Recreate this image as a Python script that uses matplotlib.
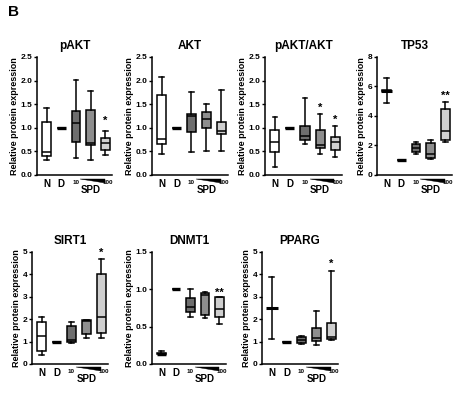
import numpy as np
import matplotlib
matplotlib.use('Agg')
import matplotlib.pyplot as plt
from matplotlib.patches import Polygon
import matplotlib.transforms as mtransforms

plt.rcParams['font.family'] = ['Liberation Sans', 'DejaVu Sans']
plt.rcParams['font.weight'] = 'bold'

groups = ["N", "D", "10", "30", "100"]

# (whislo, q1, med, q3, whishi) per group
pakt = [(0.32, 0.40, 0.48, 1.13, 1.43), (1, 1, 1, 1, 1), (0.37, 0.70, 1.10, 1.35, 2.02),
        (0.32, 0.64, 0.68, 1.37, 1.78), (0.42, 0.54, 0.67, 0.79, 0.93)]
akt = [(0.45, 0.65, 0.77, 1.70, 2.08), (1, 1, 1, 1, 1), (0.48, 0.92, 1.24, 1.30, 1.75),
       (0.50, 1.00, 1.18, 1.34, 1.51), (0.50, 0.87, 0.94, 1.13, 1.80)]
ratio = [(0.17, 0.48, 0.70, 0.96, 1.23), (1, 1, 1, 1, 1), (0.65, 0.75, 0.82, 1.03, 1.63),
         (0.44, 0.58, 0.63, 0.96, 1.29), (0.39, 0.52, 0.70, 0.80, 1.04)]
tp53 = [(4.85, 5.68, 5.70, 5.75, 6.55), (1, 1, 1, 1, 1), (1.45, 1.55, 1.85, 2.10, 2.25),
        (1.10, 1.15, 1.40, 2.20, 2.40), (2.25, 2.40, 3.00, 4.45, 4.95)]
sirt1 = [(0.40, 0.60, 1.27, 1.88, 2.10), (1, 1, 1, 1, 1), (0.92, 0.97, 1.08, 1.68, 1.88),
         (1.15, 1.33, 1.90, 1.95, 1.98), (1.15, 1.40, 2.10, 4.02, 4.68)]
dnmt1 = [(0.12, 0.13, 0.14, 0.15, 0.17), (1, 1, 1, 1, 1), (0.63, 0.70, 0.77, 0.89, 1.01),
         (0.62, 0.65, 0.92, 0.95, 0.96), (0.54, 0.63, 0.73, 0.90, 0.90)]
pparg = [(1.10, 2.48, 2.50, 2.52, 3.90), (1, 1, 1, 1, 1), (0.90, 0.95, 1.05, 1.20, 1.25),
         (0.85, 1.02, 1.15, 1.60, 2.37), (1.05, 1.10, 1.20, 1.85, 4.17)]

titles = ["pAKT", "AKT", "pAKT/AKT", "TP53", "SIRT1", "DNMT1", "PPARG"]
datasets = [pakt, akt, ratio, tp53, sirt1, dnmt1, pparg]
ymax = [2.5, 2.5, 2.5, 8, 5, 1.5, 5]
yticks = [np.arange(0, 2.6, 0.5), np.arange(0, 2.6, 0.5), np.arange(0, 2.6, 0.5),
          [0, 2, 4, 6, 8], [0, 1, 2, 3, 4, 5], [0, 0.5, 1.0, 1.5], [0, 1, 2, 3, 4, 5]]
ytickfmt = ["%.1f", "%.1f", "%.1f", "%d", "%d", "%.1f", "%d"]
stars = [{4: ("*", 1.15)}, {}, {3: ("*", 1.42), 4: ("*", 1.17)}, {4: ("**", 5.4)},
         {4: ("*", 4.95)}, {4: ("**", 0.95)}, {4: ("*", 4.45)}]

fills = ["white", "white", "#6e6e6e", "#8e8e8e", "#cfcfcf"]

W, H = 468, 395
# axes boxes in pixels: left, top, right, bottom
boxes = [(37, 57, 112, 175), (152, 57, 228, 175), (265, 57, 342, 175), (377, 57, 452, 175),
         (32, 252, 108, 364), (152, 252, 226, 364), (262, 252, 338, 364)]

fig = plt.figure(figsize=(W / 100, H / 100), dpi=100)
fig.text(8 / W, 1 - 16 / H, "B", fontsize=11, fontweight='bold')

for i, (title, data) in enumerate(zip(titles, datasets)):
    l, t, r, b = boxes[i]
    ax = fig.add_axes([l / W, 1 - b / H, (r - l) / W, (b - t) / H])
    stats = []
    for d in data:
        stats.append(dict(whislo=d[0], q1=d[1], med=d[2], q3=d[3], whishi=d[4], fliers=[]))
    bp = ax.bxp(stats, positions=range(5), widths=0.6, patch_artist=True,
                showfliers=False,
                boxprops=dict(linewidth=1.1, edgecolor='black'),
                medianprops=dict(color='black', linewidth=1.1),
                whiskerprops=dict(linewidth=1.1),
                capprops=dict(linewidth=1.1), capwidths=0.3)
    for j, patch in enumerate(bp['boxes']):
        patch.set_facecolor(fills[j])
    # D group: reference line only
    bp['medians'][1].set_linewidth(2.4)
    if title in ("TP53", "PPARG"):
        bp['medians'][0].set_linewidth(2.2)
        bp['medians'][0].set_xdata([-0.4, 0.4])
    if title == "DNMT1":
        bp['medians'][0].set_linewidth(2.5)

    for k, (s, yv) in stars[i].items():
        ax.text(k, yv, s, ha='center', va='center', fontsize=8)

    ax.set_xlim(-0.65, 4.45)
    ax.set_ylim(0, ymax[i])
    ax.set_yticks(yticks[i])
    ax.set_yticklabels([ytickfmt[i] % v for v in yticks[i]], fontsize=6, fontweight='bold')
    ax.spines['top'].set_visible(False)
    ax.spines['right'].set_visible(False)
    ax.spines['left'].set_linewidth(1.1)
    ax.spines['bottom'].set_linewidth(1.1)
    ax.tick_params(axis='y', length=2.5, width=1.0, pad=1)
    ax.set_xticks([0, 1])
    ax.set_xticklabels(["N", "D"], fontsize=7, fontweight='bold')
    ax.tick_params(axis='x', length=0, pad=3)
    ax.set_title(title, fontsize=8.5, fontweight='bold', pad=6)
    ax.set_ylabel("Relative protein expression", fontsize=6.5, fontweight='bold', labelpad=1)

    tr = mtransforms.blended_transform_factory(ax.transData, ax.transAxes)
    ax.text(2.0, -0.065, "10", transform=tr, ha='center', va='center', fontsize=4.5)
    ax.text(4.15, -0.065, "100", transform=tr, ha='center', va='center', fontsize=4.5)
    ax.text(3.0, -0.13, "SPD", transform=tr, ha='center', va='center', fontsize=7,
            fontweight='bold')
    wedge = Polygon([[2.3, -0.03], [3.95, -0.03], [3.95, -0.065]], closed=True,
                    transform=tr, facecolor='black', edgecolor='black', lw=0.3,
                    clip_on=False)
    ax.add_patch(wedge)

fig.savefig("out.png", dpi=100)
